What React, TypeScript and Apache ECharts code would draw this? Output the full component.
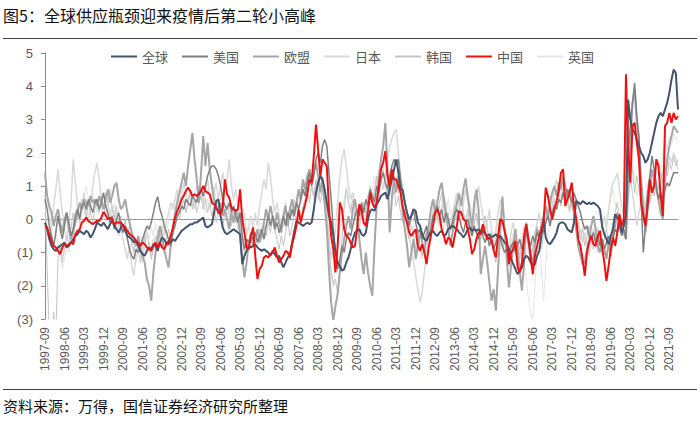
import React, { useEffect, useRef } from "react";
import * as echarts from "echarts";

const START_YEAR = 1997;
const START_MONTH = 9;
const N_MONTHS = 293;
const categories: string[] = [];
for (let i = 0; i < N_MONTHS; i++) {
  const t = START_MONTH - 1 + i;
  categories.push(`${START_YEAR + Math.floor(t / 12)}-${String((t % 12) + 1).padStart(2, "0")}`);
}

const yTicks = [-3, -2, -1, 0, 1, 2, 3, 4, 5];

const china = [
  -0.2,-0.25,-0.45,-0.65,-0.8,-0.85,-0.95,-1.05,-0.85,-0.75,-0.8,-0.75,
  -0.7,-0.75,-0.45,-0.35,-0.3,-0.1,-0.05,0.05,-0.05,-0.1,-0.15,-0.1,
  -0.05,-0.05,0.05,0.22,0.12,0,0.05,0,-0.15,-0.1,-0.1,-0.1,
  -0.2,-0.25,-0.35,-0.45,-0.5,-0.55,-0.65,-0.7,-0.8,-0.7,-0.75,-0.85,
  -0.9,-0.95,-0.8,-0.7,-0.85,-0.7,-0.85,-0.9,-0.75,-0.75,-0.5,-0.25,
  0.05,0.25,0.4,0.6,0.7,0.85,0.95,0.85,0.7,0.75,0.7,0.75,
  0.85,1.0,0.85,0.8,0.75,0.5,0.45,0.35,0.2,0.15,0.35,1.2,
  0.75,0.65,0.35,0.3,0.25,0.3,0.9,0,-0.4,-0.85,-0.9,-0.5,
  -0.25,-1.1,-1.8,-1.5,-1.4,-1.15,-1.1,-1.15,-1.05,-1.0,-0.85,-1.1,
  -1.3,-1.2,-1.1,-0.95,-1.0,-1.15,-0.75,-0.5,-0.2,0.3,-0.1,0.2,
  0.45,0.75,1.2,1.1,1.9,2.85,2.1,1.3,1.8,1.7,1.6,0.3,
  -0.5,-0.9,-1.6,-0.8,0.5,0.3,-0.3,-0.5,-0.55,-0.7,-0.85,-0.8,
  -0.25,0.45,0.3,-0.1,-0.2,0.25,0.8,0.5,0.35,0.5,1.0,1.5,
  1.7,2.05,1.3,1.0,1.5,1.2,1.2,1.0,0.8,0.4,0.1,-0.1,
  -0.4,-0.5,-0.4,-0.3,-0.8,-0.95,-0.75,-1.0,-1.35,-0.85,-0.5,-0.2,
  0.2,0.3,0.1,-0.3,-0.5,-0.75,-0.55,-0.6,-0.85,-0.5,-0.2,0.25,
  0.2,0,-0.05,-0.3,-0.6,-1.05,-0.9,-0.6,-0.4,-0.45,-0.15,-0.4,
  -0.6,-0.55,-0.65,-0.95,-1.15,-0.5,0,-0.05,-0.35,-0.6,-1.35,-1.0,
  -0.9,-0.65,-1.45,-1.6,-1.3,-0.5,-0.15,-0.6,-1.1,-1.65,-1.1,-0.8,
  -0.5,-0.3,-0.1,0.95,0.7,0.3,0,0.3,0.55,0.85,1.4,1.5,
  0.4,0.6,0.8,1.1,0.4,0.05,-0.6,-0.8,-1.2,-1.7,-1.0,-0.7,
  -0.5,-0.75,-0.8,-0.5,-0.35,-0.85,-1.3,-1.85,-1.4,-0.9,-0.55,-0.8,
  -0.4,0.15,-0.2,0,4.36,2.1,1.1,2.8,2.9,2.3,1.8,0.5,
  0.1,-0.2,0.4,1.2,0.8,1.0,1.8,1.6,0.7,0.1,2.8,2.9,
  3.2,2.9,3.2,3.0,3.1,
];

const world = [
  -0.1,-0.3,-0.6,-0.8,-0.9,-0.95,-0.85,-0.8,-0.75,-0.7,-0.85,-0.8,
  -0.7,-0.6,-0.5,-0.45,-0.35,-0.4,-0.45,-0.35,-0.4,-0.55,-0.45,-0.3,
  -0.1,-0.15,-0.2,-0.1,-0.2,-0.3,-0.15,-0.05,-0.2,-0.3,-0.4,-0.25,
  -0.15,-0.35,-0.5,-0.55,-0.6,-0.7,-0.65,-0.8,-0.95,-1.05,-1.1,-0.95,
  -0.85,-0.9,-0.75,-0.8,-0.95,-0.7,-0.55,-0.6,-0.75,-0.65,-0.7,-0.6,
  -0.65,-0.55,-0.45,-0.35,-0.3,-0.25,-0.2,-0.15,-0.15,-0.1,-0.1,-0.05,
  0,0.05,-0.2,-0.25,-0.2,-0.15,0.2,0.55,0.6,0.1,-0.25,-0.4,
  -0.45,-0.4,-0.35,-0.3,-0.35,-0.4,-0.45,-1.35,-1.1,-0.95,-0.8,-0.85,
  -0.8,-0.75,-0.85,-0.9,-0.95,-0.9,-0.95,-1.0,-1.1,-0.95,-1.05,-1.15,
  -1.1,-1.3,-1.45,-1.3,-1.15,-1.05,-0.7,-0.35,-0.05,-0.1,-0.15,-0.2,
  -0.15,-0.1,-0.15,-0.1,0.3,0.8,1.1,1.3,1.2,0.9,0.5,0.1,
  -0.1,-0.5,-1.0,-1.3,-1.4,-1.55,-1.5,-1.3,-1.15,-0.9,-0.6,-0.4,
  -0.35,-0.3,-0.45,-0.5,-0.4,0.0,0.25,0.3,0.25,0.45,0.55,0.7,
  0.75,0.8,0.6,0.9,1.2,1.5,1.8,1.4,0.9,0.88,0.5,0.2,
  0.0,0.1,0.3,0.25,-0.1,-0.2,-0.45,-0.6,-0.65,-0.5,-0.4,-0.35,
  -0.45,-0.5,-0.4,-0.35,-0.5,-0.45,-0.3,-0.25,-0.2,-0.25,-0.3,-0.4,
  -0.45,-0.55,-0.45,-0.3,-0.25,-0.35,-0.3,-0.35,-0.3,-0.4,-0.35,-0.45,
  -0.5,-0.45,-0.55,-0.5,-0.45,-0.55,-0.5,-0.6,-0.7,-0.75,-0.9,-1.2,
  -1.35,-1.5,-1.65,-1.55,-1.45,-1.2,-1.1,-1.15,-1.3,-1.4,-1.35,-1.1,
  -0.95,-0.5,0,-0.55,-0.7,-0.75,-0.65,-0.55,-0.4,-0.15,-0.1,-0.1,
  -0.15,-0.3,-0.35,-0.4,-0.1,0.55,0.5,0.45,0.55,0.5,0.45,0.5,
  0.45,0.5,0.45,0.4,0.3,-0.2,-0.45,-0.6,-0.75,-0.5,-0.3,0.15,
  0.05,-0.05,-0.4,-0.2,0.1,3.6,3.0,2.7,2.6,2.4,2.2,2.0,
  1.9,1.7,1.8,2.0,2.3,2.6,2.9,3.1,3.2,3.1,3.3,3.5,
  3.8,4.2,4.5,4.4,3.3,
];

const usa = [
  0.6,0.3,-0.2,-0.5,-0.8,-0.4,0.1,-0.3,-0.6,-0.2,0.2,-0.1,
  -0.5,-0.3,0.1,0.3,0.0,0.4,0.5,0.3,0.6,0.4,0.2,0.5,
  0.6,0.3,0.5,0.8,0.4,0.2,-0.1,0.1,-0.3,0.0,0.2,-0.2,
  -0.4,-0.2,-0.6,-0.9,-1.1,-1.2,-0.9,-1.0,-0.8,-0.6,-0.4,-0.2,
  -0.3,-0.1,0.2,0.5,0.68,0.3,0.1,-0.2,-0.4,-0.6,-0.8,-0.4,
  -0.2,0.1,0.2,0.4,0.3,0.6,0.5,0.4,0.7,0.6,0.5,0.8,
  0.9,0.7,1.0,1.3,1.5,1.6,1.6,1.5,1.3,1.0,0.6,0.4,
  0.3,0.5,0.2,0.4,0.1,-0.1,0.2,-0.5,-0.9,-0.6,-0.7,-0.5,
  -0.6,-0.4,-0.7,-0.5,-0.3,-0.6,-0.2,0.1,-0.2,0.1,-0.3,-0.1,
  -0.4,-0.2,0.1,-0.2,0.2,0.0,0.3,0.1,0.5,0.3,0.6,0.9,
  0.7,1.1,1.4,1.0,1.3,1.8,2.0,1.7,2.2,2.4,2.2,1.4,
  0.6,-0.3,-1.0,-1.5,-1.2,-0.8,-1.0,-0.6,-0.4,-0.5,-0.2,0.1,
  0.3,0.1,0.5,0.2,0.6,0.4,0.9,0.7,0.5,1.0,0.8,1.2,
  1.4,1.1,0.9,1.3,1.6,1.8,1.7,1.8,1.2,0.8,0.5,0.2,
  -0.2,0.1,0.3,-0.1,-0.4,-0.3,-0.6,-0.4,-0.2,-0.5,-0.3,0.1,
  0.2,0.4,0.1,0.3,-0.1,0.2,0.0,-0.3,-0.1,0.2,0.3,0.1,
  -0.2,-0.4,-0.1,0.0,-0.3,-0.5,-0.2,-0.4,-0.6,-0.3,-0.5,-0.7,
  -0.5,-0.8,-0.6,-0.9,-0.7,-0.5,-0.6,-0.8,-1.0,-0.9,-1.1,-0.8,
  -0.7,-1.0,-0.8,-0.6,-0.9,-0.7,-0.4,-0.6,-0.8,-0.5,-0.7,-0.4,
  -0.5,-0.2,-0.4,-0.1,0.1,-0.2,0.2,0.4,0.3,0.6,0.5,0.8,
  0.6,0.9,0.7,0.5,0.8,0.6,0.4,0.2,-0.1,-0.3,-0.2,-0.5,
  -0.6,-0.4,-0.7,-0.5,-0.8,-0.6,-0.9,-0.7,-0.5,-0.8,-0.6,-0.3,
  -0.4,-0.2,-0.5,-0.3,-0.6,2.0,2.8,3.5,4.1,3.1,2.5,0.6,
  -1.0,-0.2,0.8,1.3,1.9,1.5,1.0,0.6,0.8,0.6,0.9,1.1,
  1.0,1.2,1.4,1.4,1.4,
];

const eu = [
  1.4,0.7,0.4,0.2,-0.2,0.1,0.3,-0.1,-0.4,0.0,0.2,-0.3,
  -0.6,-0.4,-0.1,0.2,0.5,0.3,0.6,0.5,0.4,0.7,0.5,0.6,
  0.4,0.7,0.5,0.3,0.6,0.9,0.5,0.7,1.0,1.1,0.6,0.3,
  0.4,0.6,0.2,-0.1,-0.4,-0.6,-0.8,-0.5,-0.9,-1.1,-1.3,-1.8,
  -2.0,-2.45,-1.6,-1.0,-0.6,-0.2,-0.5,-0.9,-1.2,-1.45,-0.8,-0.3,
  0.2,0.5,0.8,1.1,1.4,1.0,1.6,2.1,2.6,1.8,1.2,0.5,
  1.4,2.5,1.6,2.3,1.5,1.0,0.6,0.4,0.2,0.5,0.1,0.3,
  0.0,-0.3,0.2,-0.1,0.3,0.1,-0.5,-1.2,-1.75,-1.3,-0.7,-0.4,
  -0.8,-0.5,-0.3,-0.7,-0.4,-0.1,0.3,0.0,0.4,0.1,-0.2,0.2,
  -0.1,-0.4,0.1,0.4,-0.2,0.3,0.6,0.2,0.5,0.9,0.6,1.2,
  0.9,1.3,1.5,1.1,1.4,1.7,1.3,0.8,1.2,0.5,-0.3,-1.5,
  -2.5,-3.05,-2.6,-2.25,-1.6,-1.0,-0.6,-0.2,0.1,-0.3,0.3,0.6,
  0.2,-0.6,-1.2,-1.65,-1.0,-1.6,-2.0,-2.3,-0.8,0.4,1.2,1.8,
  2.2,2.9,1.5,-0.4,0.6,1.2,0.8,1.3,0.9,0.2,-0.3,-0.8,
  -1.45,-1.0,-0.6,-1.2,-0.8,-0.4,-0.7,-1.0,-0.5,-0.2,0.3,0.6,
  0.2,0.5,0.9,1.1,0.6,0.1,-0.3,-0.8,-0.4,0.1,0.5,0.78,
  0.4,0.9,1.23,0.7,0.2,-0.3,0.5,0.9,0.3,-1.65,-1.2,-0.8,
  -1.3,-1.9,-2.45,-2.1,-2.75,-1.5,-0.4,0.68,-0.3,-1.2,-2.05,-1.4,
  -0.8,-0.3,-0.9,-1.6,-2.15,-1.3,-0.1,-0.6,-1.0,-1.4,-0.8,-0.3,
  -0.6,-0.2,0.1,0.4,0.0,0.5,0.8,1.0,0.7,1.1,0.9,1.28,
  1.0,0.7,0.9,0.5,0.2,-0.3,-0.8,-1.1,-1.35,-1.3,-0.9,-0.6,
  -0.2,0.1,-0.3,-0.8,-1.0,-0.6,-0.9,-1.2,-0.7,-1.1,-0.5,-0.2,
  0.2,-0.1,-0.3,-0.4,-0.6,1.0,2.2,3.5,3.9,2.9,2.3,1.2,
  0.4,-0.4,0.3,1.0,1.5,1.2,0.9,0.58,0.2,0.0,1.2,1.8,
  2.2,2.5,2.8,2.7,2.6,
];

const japan = [
  0.2,-0.3,-0.6,-0.2,0.4,0.9,1.5,0.8,0.2,-0.3,-0.6,-0.2,
  0.5,1.8,1.1,0.4,-0.2,0.3,0.8,0.2,-0.1,0.5,1.0,1.4,
  1.7,1.2,0.6,0.3,0.8,0.5,0.1,0.4,0.2,-0.2,-0.5,-0.3,
  -0.6,-0.9,-1.2,-0.8,-1.4,-1.7,-1.1,-0.6,-0.9,-1.3,-0.7,-0.4,
  -0.8,-1.1,-0.6,-0.9,-0.3,-0.7,-0.2,-0.5,-0.1,0.2,0.5,0.3,
  0.6,0.9,0.4,0.7,1.1,0.8,0.5,0.9,0.6,0.3,0.7,1.0,
  0.8,0.5,0.9,1.2,0.7,0.4,0.8,1.1,0.6,1.0,1.4,0.9,
  1.2,1.8,1.0,0.6,0.9,0.4,0.1,-0.3,0.2,-0.5,-0.2,0.1,
  -0.3,0.2,-0.2,0.4,0.8,1.2,0.9,1.7,1.3,0.6,0.2,0.5,
  0.1,-0.3,0.2,0.5,-0.2,0.4,0.1,0.6,0.3,0.9,0.5,1.1,
  0.8,1.2,1.5,1.0,0.7,1.1,0.6,0.9,1.3,0.8,0.3,-0.5,
  -1.2,-0.8,-0.3,0.5,1.3,1.8,2.1,1.6,1.0,0.6,0.8,0.4,
  0.1,-0.3,0.2,0.5,0.1,0.6,0.9,0.4,0.7,1.1,1.5,1.2,
  0.9,1.3,1.8,2.2,2.4,2.6,2.7,2.0,1.4,0.9,0.5,0.1,
  -0.5,-0.9,-1.3,-1.7,-2.1,-2.5,-2.2,-1.6,-1.0,-0.5,-0.1,0.3,
  0.6,0.2,-0.2,0.3,0.7,0.4,0.0,-0.4,0.1,0.5,0.8,0.4,
  0.1,0.5,0.9,0.6,0.2,-0.2,0.2,0.6,1.0,0.5,0.1,-0.3,
  -0.1,0.3,-0.4,-0.8,-0.3,0.2,0.6,0.3,-0.2,-0.6,-0.9,-0.4,
  -0.1,-0.5,-0.9,-1.2,-0.6,-0.2,-0.5,-0.9,-1.3,-0.8,-0.4,-0.1,
  0.2,-0.3,0.1,0.5,0.2,0.7,0.4,0.9,1.2,0.8,1.1,0.6,
  0.9,0.5,0.2,0.6,0.3,-0.2,-0.5,-0.3,-0.7,-0.4,-0.8,-1.1,
  -0.7,-0.3,-0.6,-1.0,-0.5,-0.2,0.1,-0.3,0.3,0.8,1.1,1.2,
  1.38,0.9,0.4,0.1,-0.2,0.5,1.2,0.8,0.3,-0.2,0.2,0.5,
  0.1,0.4,0.8,0.5,0.9,1.3,1.0,0.6,1.1,1.5,1.2,1.6,
  1.9,1.7,2.0,1.8,1.5,
];

const korea = [
  0.8,-1.5,-3.5,-3.5,-2.8,-3.5,-1.2,-0.8,-1.3,-0.9,-0.5,-0.8,
  -0.3,0.2,-0.2,0.4,0.1,0.6,0.3,0.0,0.5,0.2,-0.1,0.3,
  0.5,0.2,0.7,0.4,0.1,0.6,0.9,0.3,0.0,0.4,-0.2,0.1,
  -0.3,0.0,-0.5,-0.2,-0.7,-1.0,-0.6,-0.9,-1.3,-0.8,-0.5,-1.0,
  -0.7,-1.2,-0.9,-0.5,-0.8,-0.4,-0.7,-1.0,-0.6,-0.3,-0.7,-0.2,
  0.1,0.4,0.0,0.3,0.6,0.2,0.5,0.8,0.3,0.6,0.2,0.5,
  0.7,0.3,0.6,0.2,0.5,0.1,0.4,-0.1,0.3,0.0,-0.2,0.2,
  0.4,0.1,-0.2,0.3,-0.1,0.2,-0.3,-0.7,-1.0,-0.6,-0.9,-0.5,
  -0.8,-0.4,-0.7,-0.3,-0.6,-0.2,-0.5,-0.1,-0.4,0.0,-0.3,-0.6,
  -0.9,-0.5,-0.8,-0.4,-0.1,-0.5,-0.2,0.2,-0.1,0.3,0.0,0.4,
  0.6,0.9,0.5,1.0,0.7,1.2,0.8,0.5,0.9,0.4,0.0,-0.8,
  -1.6,-2.0,-1.8,-2.25,-1.4,-0.6,0.3,0.9,0.5,0.2,0.6,0.1,
  -0.2,0.3,0.0,0.5,0.2,0.7,1.0,0.6,0.9,1.3,0.8,1.1,
  1.5,1.0,0.7,1.1,0.6,0.9,0.4,0.7,0.2,-0.1,0.3,-0.3,
  -0.6,-0.2,-0.5,-0.9,-0.4,-0.8,-1.1,-0.7,-0.3,-0.6,-0.2,0.1,
  0.4,0.0,0.5,0.8,0.3,-0.1,0.2,-0.3,0.1,0.4,0.0,0.3,
  0.6,0.2,-0.1,0.3,-0.2,-0.5,-0.1,0.2,-0.3,-0.6,-0.2,0.1,
  -0.3,-0.7,-0.4,-0.9,-1.3,-0.8,-0.5,-0.9,-0.6,-1.0,-1.4,-0.9,
  -0.6,-1.0,-1.3,-0.8,-1.1,-0.7,-0.4,-0.8,-1.2,-0.9,-0.5,-0.2,
  -0.6,-0.9,-0.4,-0.1,0.3,-0.2,0.2,0.6,0.3,0.7,0.4,0.9,
  0.5,0.8,0.3,0.6,0.1,-0.3,-0.1,-0.6,-0.3,-0.8,-0.5,-0.2,
  -0.5,-0.9,-0.6,-0.3,-0.7,-1.0,-0.6,-0.3,-0.8,-0.5,-0.1,0.2,
  0.5,0.1,-0.3,0.0,-0.4,1.2,2.0,1.5,0.8,1.3,0.9,0.4,
  0.0,0.4,0.8,0.5,1.0,0.7,1.2,0.9,1.4,1.1,1.6,1.3,
  1.7,1.5,1.9,1.6,1.8,
];

const uk = [
  0.3,0.6,0.2,-0.2,0.1,-0.4,-0.7,-1.1,-1.5,-1.2,-0.8,-1.0,
  -0.6,-0.2,0.3,0.0,0.5,0.2,0.7,1.0,0.6,0.3,0.8,0.5,
  0.2,0.6,0.3,0.0,0.4,0.1,-0.2,0.2,0.5,0.1,-0.3,-0.1,
  -0.4,-0.1,-0.5,-0.9,-0.6,-1.0,-1.3,-0.8,-0.5,-0.9,-0.6,-0.3,
  -0.6,-0.2,-0.5,-0.1,-0.4,-0.8,-0.3,0.0,-0.4,-0.1,0.2,0.5,
  0.3,0.7,0.4,0.9,0.6,0.2,0.5,0.8,0.4,0.7,1.0,0.6,
  0.9,0.5,0.2,0.6,0.3,0.7,1.0,0.6,0.3,0.7,0.4,0.1,
  0.5,0.2,-0.1,0.3,0.0,-0.3,0.1,-0.4,-0.8,-0.5,-0.2,-0.6,
  -0.3,-0.7,-0.4,-0.1,-0.5,-0.2,0.2,-0.1,0.3,0.0,-0.4,-0.1,
  -0.5,-0.2,0.1,-0.3,0.0,0.4,0.1,0.5,0.2,0.6,1.0,0.7,
  1.1,0.8,1.3,0.9,0.6,1.0,0.7,1.2,0.8,0.4,-0.2,-0.9,
  -1.5,-1.9,-1.4,-0.8,-0.3,0.2,0.6,1.0,0.7,0.3,0.8,0.5,
  0.1,0.5,0.2,-0.2,0.3,0.7,0.4,0.9,1.3,1.0,0.6,1.2,
  0.9,1.4,1.1,0.7,1.0,1.5,1.2,0.8,0.4,0.9,0.5,0.1,
  -0.3,0.2,-0.2,-0.6,-0.3,-0.8,-1.2,-0.7,-0.4,-0.8,-0.5,-0.1,
  0.3,-0.1,0.4,0.1,-0.3,0.2,0.6,0.2,-0.2,0.3,0.0,-0.4,
  -0.1,0.3,-0.2,0.2,0.5,0.1,-0.3,0.2,-0.2,-0.6,-0.3,0.1,
  -0.2,-0.6,-0.3,-0.8,-0.5,-0.1,-0.4,-0.8,-0.5,-0.9,-1.2,-0.7,
  -0.4,-0.9,-1.4,-1.0,-0.6,-1.2,-1.8,-2.4,-2.8,-3.1,-2.0,-1.1,
  -0.6,-1.5,-2.45,-1.4,-0.5,0.0,0.4,0.1,0.5,0.9,0.6,1.1,
  0.7,0.4,0.8,0.5,0.1,-0.3,0.0,-0.4,-0.2,-0.6,-0.3,-0.7,
  -0.4,-0.8,-0.5,-0.2,-0.6,-0.3,0.1,-0.2,0.3,0.6,0.9,0.5,
  0.2,-0.2,-0.5,-0.3,0.0,1.5,2.4,1.8,1.2,0.7,1.0,0.6,
  0.3,0.7,1.1,0.8,1.3,1.0,1.5,1.8,1.4,2.0,2.4,2.1,
  2.5,2.2,2.6,2.4,2.3,
];

const legendOrder = ["全球", "美国", "欧盟", "日本", "韩国", "中国", "英国"];

const FONT = "'Liberation Sans','Noto Sans CJK SC',sans-serif";
const CJK = "'Noto Sans CJK SC','Liberation Sans',sans-serif";

function fmtY(v: number): string {
  if (v < 0) return `(${-v})`;
  return String(v);
}

export default function App() {
  const ref = useRef<HTMLDivElement>(null);
  useEffect(() => {
    document.body.style.margin = "0";
    if (!ref.current) return;
    const chart = echarts.init(ref.current, undefined, { renderer: "svg" });
    const mk = (name: string, data: number[], color: string, width: number, extra: any = {}) => ({
      name,
      type: "line",
      data,
      symbol: "none",
      showSymbol: false,
      smooth: false,
      lineStyle: { color, width },
      itemStyle: { color },
      emphasis: { disabled: true },
      ...extra,
    });
    chart.setOption({
      animation: false,
      textStyle: { fontFamily: FONT },
      grid: { left: 45, right: 22, top: 53, bottom: 104, containLabel: false },
      legend: {
        data: legendOrder,
        left: 106,
        top: 45,
        icon: "rect",
        itemWidth: 26,
        itemHeight: 2,
        itemGap: 14,
        textStyle: { fontFamily: CJK, fontSize: 13, color: "#595959" },
        selectedMode: false,
      },
      xAxis: {
        type: "category",
        data: categories,
        boundaryGap: false,
        axisLine: { show: false, onZero: false },
        axisTick: { show: false },
        axisLabel: {
          interval: 8,
          rotate: 90,
          fontSize: 12,
          color: "#595959",
          margin: 8,
          fontFamily: FONT,
        },
        splitLine: { show: false },
      },
      yAxis: {
        type: "value",
        min: yTicks[0],
        max: yTicks[yTicks.length - 1],
        interval: 1,
        axisLine: { show: true, lineStyle: { color: "#8c8c8c", width: 1 } },
        axisTick: { show: true, length: 4, lineStyle: { color: "#8c8c8c" } },
        axisLabel: {
          formatter: (v: number) => fmtY(v),
          fontSize: 13,
          color: "#595959",
          margin: 12,
          fontFamily: FONT,
        },
        splitLine: { show: false },
      },
      graphic: [
        {
          type: "text",
          left: 3,
          top: 7,
          style: {
            text: "图5：全球供应瓶颈迎来疫情后第二轮小高峰",
            font: `16px ${CJK}`,
            fill: "#111111",
          },
        },
        {
          type: "line",
          shape: { x1: 3, y1: 38.5, x2: 697, y2: 38.5 },
          style: { stroke: "#404040", lineWidth: 1 },
        },
        {
          type: "line",
          shape: { x1: 3, y1: 389.5, x2: 697, y2: 389.5 },
          style: { stroke: "#404040", lineWidth: 1 },
        },
        {
          type: "text",
          left: 3,
          top: 398,
          style: {
            text: "资料来源：万得，国信证券经济研究所整理",
            font: `15px ${CJK}`,
            fill: "#111111",
          },
        },
      ],
      series: [
        mk("英国", uk, "#e4e4e4", 1),
        mk("日本", japan, "#d9d9d9", 1.5),
        mk("韩国", korea, "#c4c4c4", 1),
        mk("欧盟", eu, "#a6a6a6", 2),
        mk("美国", usa, "#808080", 1.5),
        mk("全球", world, "#44546a", 2, {
          markLine: {
            silent: true,
            symbol: "none",
            label: { show: false },
            lineStyle: { color: "#999999", width: 1, type: "solid" },
            data: [{ yAxis: 0 }],
            z: 1,
          },
        }),
        mk("中国", china, "#ee1111", 2),
      ],
    });
    return () => chart.dispose();
  }, []);
  return <div ref={ref} style={{ width: 700, height: 423 }} />;
}
